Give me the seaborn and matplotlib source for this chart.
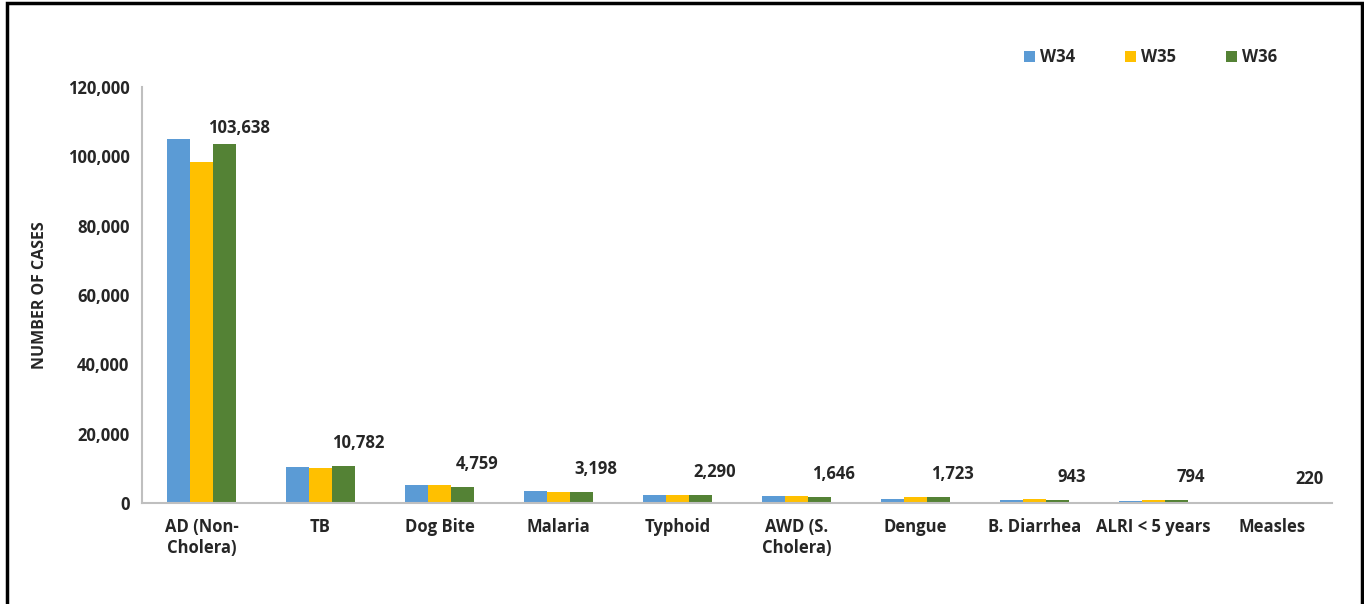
import matplotlib
matplotlib.use("Agg")
import matplotlib.pyplot as plt
import matplotlib.patches as mpatches
import pandas as pd
import seaborn as sns

# disease categories and weekly case counts
diseases = ["AD (Non-\nCholera)", "TB", "Dog Bite", "Malaria", "Typhoid",
            "AWD (S.\nCholera)", "Dengue", "B. Diarrhea", "ALRI < 5 years", "Measles"]
weeks = ["W34", "W35", "W36"]
w34 = [104900, 10300, 5100, 3400, 2300, 2000, 1250, 850, 650, 200]
w35 = [98300, 10100, 5100, 3200, 2300, 2000, 1600, 1150, 950, 330]
w36 = [103638, 10782, 4759, 3198, 2290, 1646, 1723, 943, 794, 220]
yticks = [0, 20000, 40000, 60000, 80000, 100000, 120000]

colors = ["#5B9BD5", "#FFC000", "#548235"]

df = pd.DataFrame({
    "disease": diseases * 3,
    "week": [w for w in weeks for _ in diseases],
    "cases": w34 + w35 + w36,
})

sns.set_style("white")
plt.rcParams['font.family'] = ['Open Sans', 'DejaVu Sans']
plt.rcParams['font.weight'] = 'bold'

fig = plt.figure(figsize=(13.64, 6.04), dpi=100)
ax = fig.add_axes([142 / 1364, 1 - 503 / 604, (1332 - 142) / 1364, (503 - 87) / 604])

sns.barplot(data=df, x="disease", y="cases", hue="week", palette=colors,
            width=0.58, saturation=1, linewidth=0, ax=ax, errorbar=None)

ax.set_ylim(0, 120000)
ax.set_xlim(-0.5, len(diseases) - 0.5)
ax.set_yticks(yticks)
ax.set_yticklabels([f"{t:,}" for t in yticks], fontsize=12, fontweight='bold')
ax.tick_params(axis='x', labelsize=12, length=0, pad=11)
ax.tick_params(axis='y', length=0, pad=9)
for lab in ax.get_xticklabels():
    lab.set_fontweight('bold')
ax.set_xlabel("")
ax.set_ylabel("NUMBER OF CASES", fontsize=11.5, fontweight='bold', labelpad=14)

for side in ["top", "right"]:
    ax.spines[side].set_visible(False)
for side in ["left", "bottom"]:
    ax.spines[side].set_color("#BFBFBF")
    ax.spines[side].set_linewidth(1.5)

# value labels on the W36 bars
green = ax.containers[2]
for i, (bar, v) in enumerate(zip(green, w36)):
    off = 5 if i == 0 else 10
    ax.annotate(f"{v:,}", (bar.get_x() + bar.get_width() / 2 + 0.12, bar.get_height()),
                xytext=(0, off), textcoords="offset points", ha="center", va="bottom",
                fontsize=12, fontweight='bold')

leg = ax.legend(loc="upper right", bbox_to_anchor=(1292 / 1364, 1 - 33 / 604),
                bbox_transform=fig.transFigure, ncol=3, frameon=False,
                fontsize=12, handlelength=0.65, handleheight=0.65,
                handletextpad=0.3, columnspacing=3.0)
for t in leg.get_texts():
    t.set_fontweight('bold')

# outer border of the chart area
fig.patches.append(mpatches.Rectangle((7 / 1364, -0.01), 1355 / 1364, 1 - 3 / 604 + 0.01,
                                      transform=fig.transFigure, fill=False,
                                      edgecolor="black", linewidth=2.5))

fig.savefig("out.png", dpi=100)
